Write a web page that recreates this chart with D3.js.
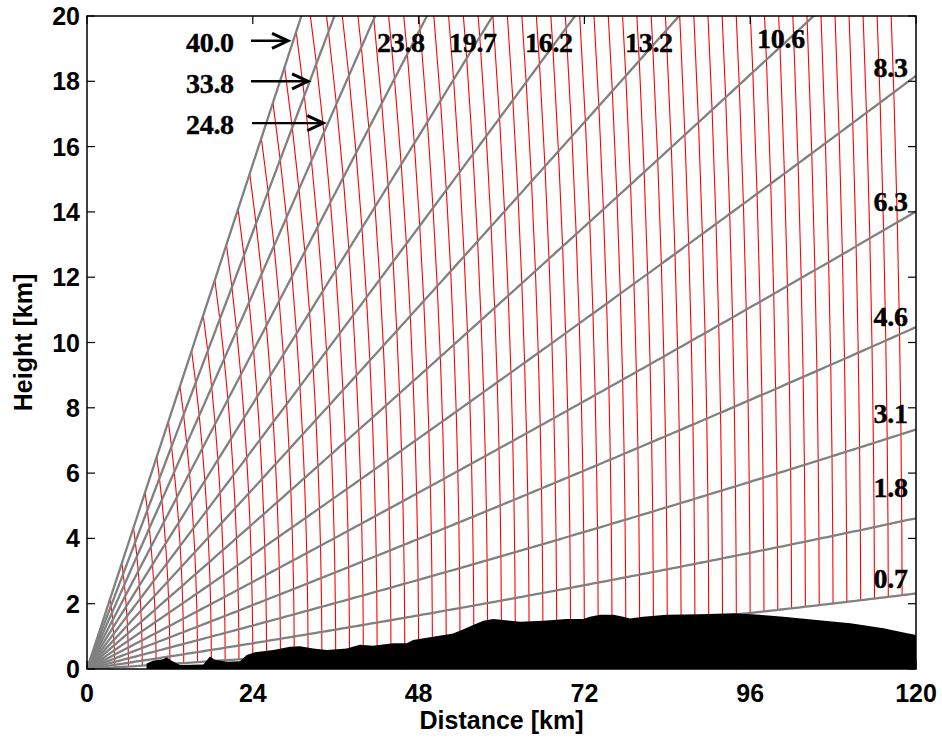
<!DOCTYPE html>
<html><head><meta charset="utf-8">
<script src="https://cdn.jsdelivr.net/npm/d3@7"></script>
<style>body{margin:0;background:#fff} svg{display:block}</style>
</head><body><svg id="c" width="942" height="742"></svg>
<script>
// ---- data ----
const beamAngles = [0.7, 1.8, 3.1, 4.6, 6.3, 8.3, 10.6, 13.2, 16.2, 19.7, 23.8, 28.5, 33.8, 40.0];
const beamLabels = ["0.7", "1.8", "3.1", "4.6", "6.3", "8.3", "10.6", "13.2", "16.2", "19.7", "23.8", "24.8", "33.8", "40.0"];
const gateRanges = [4,6,8,10,12,14,16,18,20,22,24,26,28,30,32,34,36,38,40,42,44,46,48,50,52,54,56,58,60,
  62,64,66,68,70,72,74,76,78,80,82,84,86,88,90,92,94,96,98,100,102,104,106,108,110,112,114,116,118];
const terrainDistance = [8.6, 8.64, 9.55, 11.0, 11.54, 12.26, 13.46, 16.84, 17.8, 18.53, 20.22, 22.15, 23.12, 24.32,
  26.97, 29.39, 30.83, 32.76, 34.7, 37.6, 39.5, 41.4, 44.3, 46.3, 47.2, 50.1, 53.0, 54.5, 55.9, 57.4, 58.8,
  60.3, 62.7, 66.05, 69.4, 71.8, 72.8, 74.3, 76.2, 77.6, 78.6, 80.5, 83.9, 88.7, 93.6, 97.4, 100.8, 105.6,
  110.5, 115.3, 118.2, 120.1];
const terrainHeight = [0, 0.17, 0.25, 0.30, 0.36, 0.25, 0.12, 0.14, 0.38, 0.28, 0.22, 0.24, 0.43, 0.51,
  0.58, 0.68, 0.70, 0.63, 0.58, 0.63, 0.74, 0.71, 0.79, 0.79, 0.89, 0.99, 1.09, 1.22, 1.35, 1.48, 1.53,
  1.50, 1.45, 1.48, 1.53, 1.53, 1.60, 1.66, 1.66, 1.60, 1.55, 1.60, 1.66, 1.68, 1.71, 1.66, 1.60, 1.50,
  1.40, 1.25, 1.12, 1.04];
const xTicks = [0, 24, 48, 72, 96, 120];
const yTicks = [0, 2, 4, 6, 8, 10, 12, 14, 16, 18, 20];
const twoKeR = 2 * (4 / 3) * 6371; // 4/3 effective earth radius (km)

// ---- layout ----
const L = 87, R = 916, T = 16, B = 669;
const svg = d3.select("#c");
const x = d3.scaleLinear().domain([0, 120]).range([L, R]);
const y = d3.scaleLinear().domain([0, 20]).range([B, T]);

svg.append("defs").append("clipPath").attr("id", "clip")
  .append("rect").attr("x", L).attr("y", T).attr("width", R - L).attr("height", B - T);
const plot = svg.append("g").attr("clip-path", "url(#clip)");

const beamH = (d, ang) => d * Math.sin(ang * Math.PI / 180) + d * d / twoKeR;
const samples = d3.range(0, 120.5, 0.5);
const line = d3.line().x(p => x(p[0])).y(p => y(p[1]));

// range gates (red)
gateRanges.forEach(r => {
  const pts = beamAngles.map(a => {
    const s = Math.sin(a * Math.PI / 180);
    const d = r / Math.sqrt(1 + s * s);
    return [d, beamH(d, a)];
  });
  plot.append("path").attr("d", line(pts)).attr("fill", "none")
    .attr("stroke", "#ff0000").attr("stroke-width", 1.1);
});

// beams (gray)
beamAngles.forEach(a => {
  const pts = samples.map(d => [d, beamH(d, a)]);
  plot.append("path").attr("d", line(pts)).attr("fill", "none")
    .attr("stroke", "#808080").attr("stroke-width", 2.3);
});

// terrain
const terr = terrainDistance.map((d, i) => [d, terrainHeight[i]]);
plot.append("path")
  .attr("d", d3.area().x(p => x(p[0])).y0(y(0)).y1(p => y(p[1]))(terr))
  .attr("fill", "#000");

// frame + ticks
svg.append("rect").attr("x", L).attr("y", T).attr("width", R - L).attr("height", B - T)
  .attr("fill", "none").attr("stroke", "#000").attr("stroke-width", 1.5);
const tl = 8;
xTicks.forEach(t => {
  svg.append("line").attr("x1", x(t)).attr("x2", x(t)).attr("y1", B).attr("y2", B - tl).attr("stroke", "#000").attr("stroke-width", 1.2);
  svg.append("line").attr("x1", x(t)).attr("x2", x(t)).attr("y1", T).attr("y2", T + tl).attr("stroke", "#000").attr("stroke-width", 1.2);
  svg.append("text").attr("x", x(t)).attr("y", 702).attr("text-anchor", "middle")
    .attr("font-family", "Liberation Sans, Arial, sans-serif").attr("font-weight", "bold")
    .attr("font-size", 25).text(t);
});
yTicks.forEach(t => {
  svg.append("line").attr("x1", L).attr("x2", L + tl).attr("y1", y(t)).attr("y2", y(t)).attr("stroke", "#000").attr("stroke-width", 1.2);
  svg.append("line").attr("x1", R).attr("x2", R - tl).attr("y1", y(t)).attr("y2", y(t)).attr("stroke", "#000").attr("stroke-width", 1.2);
  svg.append("text").attr("x", 80).attr("y", y(t)).attr("dy", "0.36em").attr("text-anchor", "end")
    .attr("font-family", "Liberation Sans, Arial, sans-serif").attr("font-weight", "bold")
    .attr("font-size", 25).text(t);
});
svg.append("text").attr("x", (L + R) / 2).attr("y", 729).attr("text-anchor", "middle")
  .attr("font-family", "Liberation Sans, Arial, sans-serif").attr("font-weight", "bold")
  .attr("font-size", 25).text("Distance [km]");
svg.append("text").attr("transform", `translate(32,${(T + B) / 2}) rotate(-90)`).attr("text-anchor", "middle")
  .attr("font-family", "Liberation Sans, Arial, sans-serif").attr("font-weight", "bold")
  .attr("font-size", 25).text("Height [km]");

// beam labels (layout in data units)
const labelPos = [
  {i: 0, x: 118.8, y: 2.48, a: "end"},
  {i: 1, x: 118.8, y: 5.27, a: "end"},
  {i: 2, x: 118.8, y: 7.53, a: "end"},
  {i: 3, x: 118.8, y: 10.51, a: "end"},
  {i: 4, x: 118.8, y: 14.03, a: "end"},
  {i: 5, x: 118.8, y: 18.13, a: "end"},
  {i: 6, x: 96.99, y: 19.02, a: "start"},
  {i: 7, x: 77.88, y: 18.9, a: "start"},
  {i: 8, x: 63.4, y: 18.9, a: "start"},
  {i: 9, x: 52.4, y: 18.9, a: "start"},
  {i: 10, x: 41.98, y: 18.9, a: "start"},
  {i: 11, x: 14.33, y: 16.39, a: "start", ax0: 23.88, ax1: 34.2, ay: 16.72},
  {i: 12, x: 14.33, y: 17.64, a: "start", ax0: 23.74, ax1: 32.0, ay: 18.0},
  {i: 13, x: 14.33, y: 18.9, a: "start", ax0: 23.74, ax1: 29.1, ay: 19.24}
];
labelPos.forEach(p => {
  svg.append("text").attr("x", x(p.x)).attr("y", y(p.y)).attr("text-anchor", p.a)
    .attr("font-family", "Liberation Serif, Times New Roman, serif").attr("font-weight", "bold")
    .attr("font-size", 28).attr("letter-spacing", -0.3)
    .attr("stroke", "#000").attr("stroke-width", 0.4).text(beamLabels[p.i]);
  if (p.ax0 !== undefined) {
    const x0 = x(p.ax0), x1 = x(p.ax1), yy = y(p.ay);
    svg.append("line").attr("x1", x0).attr("x2", x1 - 1).attr("y1", yy).attr("y2", yy)
      .attr("stroke", "#000").attr("stroke-width", 2.4);
    svg.append("path").attr("d", `M${x1 - 16},${yy - 7.5}L${x1},${yy}L${x1 - 16},${yy + 7.5}`)
      .attr("fill", "none").attr("stroke", "#000").attr("stroke-width", 3);
  }
});
</script></body></html>
